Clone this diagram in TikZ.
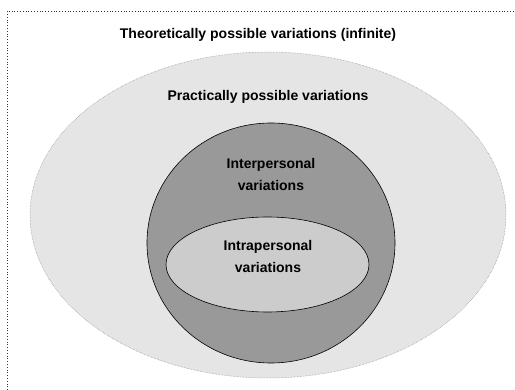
\documentclass[tikz,border=0pt]{standalone}
\usepackage{fontspec}
\setmainfont{Liberation Sans}
\usetikzlibrary{shapes.geometric}
\begin{document}
\begin{tikzpicture}[x=1pt,y=-1pt,
  lbl/.style={font=\bfseries\fontsize{14}{22}\selectfont, align=center, text=black},
  frame/.style={draw=black!80, dotted, line width=0.8pt}]
\useasboundingbox (0,0) rectangle (515,390);
\fill[white] (0,0) rectangle (515,390);
\draw[frame] (7,390) -- (7,11) -- (515,11);
\node[ellipse, minimum width=476pt, minimum height=326pt, inner sep=0pt, fill=black!10, draw=black!45, densely dotted, line width=0.5pt] (outer) at (268,215) {};
\node[ellipse, minimum width=248pt, minimum height=240pt, inner sep=0pt, fill=black!40, draw=black, line width=0.6pt] (inter) at (271,243) {};
\node[ellipse, minimum width=203pt, minimum height=95pt, inner sep=0pt, fill=black!20, draw=black, line width=0.6pt] (intra) at (267.5,264.5) {};
\node[lbl] (t1) at (258,35) {Theoretically possible variations (infinite)};
\node[lbl] (t2) at (268,97) {Practically possible variations};
\node[lbl] (t3) at (271,174) {Interpersonal\\variations};
\node[lbl] (t4) at (268,256) {Intrapersonal\\variations};
\end{tikzpicture}
\end{document}
